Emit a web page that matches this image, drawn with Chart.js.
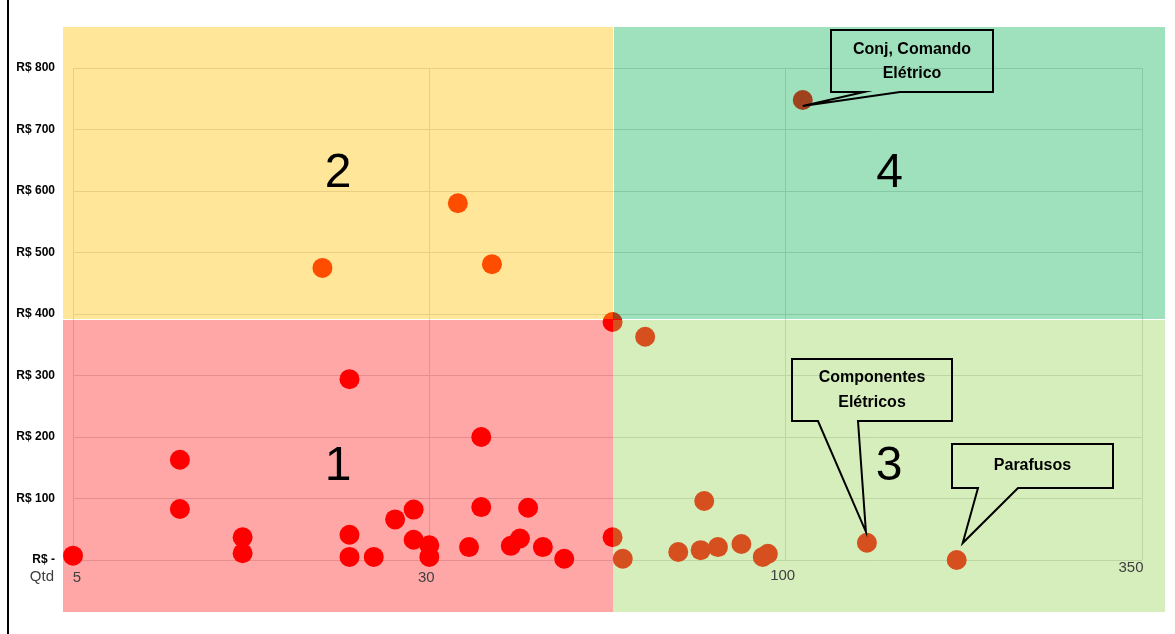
<!DOCTYPE html>
<html>
<head>
<meta charset="utf-8">
<script src="https://cdn.jsdelivr.net/npm/chart.js@4/dist/chart.umd.min.js"></script>
<style>
  body { margin: 0; background: #fff; }
  #wrap { width: 1175px; height: 634px; position: relative; }
</style>
</head>
<body>
<div id="wrap"><canvas id="chart"></canvas></div>
<script>
// x axis is drawn with equally spaced ticks at these quantities
const qtyTicks = [5, 30, 100, 350];
const valueTicks = [0, 100, 200, 300, 400, 500, 600, 700, 800];

// quantity (Qtd) and unit value (R$) of each item
const quantities = [
  5, 12.5, 12.5, 16.9, 16.9, 24.4, 24.4, 24.4, 26.1, 27.6, 28.9, 28.9,
  30, 30, 37.8, 40.2, 40.2, 46, 47.8, 49.4, 52.3, 56.5, 66, 66,
  68, 72.4, 78.9, 83.3, 84, 86.7, 91.3, 95.5, 96.5, 157, 220,
  22.5, 35.6, 42.3,
  112
];
const values = [
  7, 163, 83, 37, 11, 294, 41, 5, 5, 66, 82, 33,
  24, 5, 21, 200, 86, 23, 35, 85, 21, 2, 37, 387,
  2, 363, 13, 16, 96, 21, 26, 5, 10, 28, 0,
  475, 580, 481,
  748
];

// quadrant split
const splitQty = 66;
const splitValue = 392;
const quadrantLabels = ['1', '2', '3', '4'];

const callouts = [
  { index: 38, lines: ['Conj, Comando', 'Elétrico'] },
  { index: 33, lines: ['Componentes', 'Elétricos'] },
  { index: 34, lines: ['Parafusos'] }
];

function qtyToAxis(q) {
  for (let i = 0; i < qtyTicks.length - 1; i++) {
    if (q <= qtyTicks[i + 1] || i === qtyTicks.length - 2) {
      return i + (q - qtyTicks[i]) / (qtyTicks[i + 1] - qtyTicks[i]);
    }
  }
}

const points = quantities.map((q, i) => ({ x: qtyToAxis(q), y: values[i] }));

function drawCallout(ctx, box, base, tip, lines, lineY) {
  ctx.save();
  ctx.strokeStyle = '#000';
  ctx.lineWidth = 2;
  ctx.lineJoin = 'miter';
  ctx.beginPath();
  ctx.moveTo(box.x, box.y);
  ctx.lineTo(box.x + box.w, box.y);
  ctx.lineTo(box.x + box.w, box.y + box.h);
  ctx.lineTo(base[1], box.y + box.h);
  ctx.lineTo(tip.x, tip.y);
  ctx.lineTo(base[0], box.y + box.h);
  ctx.lineTo(box.x, box.y + box.h);
  ctx.closePath();
  ctx.stroke();
  ctx.fillStyle = '#000';
  ctx.font = 'bold 16px "Liberation Sans", Arial, sans-serif';
  ctx.textAlign = 'center';
  ctx.textBaseline = 'middle';
  lines.forEach((t, i) => ctx.fillText(t, box.x + box.w / 2, lineY[i]));
  ctx.restore();
}

const quadrantPlugin = {
  id: 'quadrants',
  beforeDraw(chart) {
    const ctx = chart.ctx;
    ctx.save();
    ctx.fillStyle = '#000';
    ctx.fillRect(7, 0, 2, chart.height);
    ctx.restore();
  },
  afterDatasetsDraw(chart) {
    const ctx = chart.ctx;
    const a = chart.chartArea;
    const xs = chart.scales.x, ys = chart.scales.y;
    const left = a.left - 10, right = a.right + 23, top = a.top - 41, bottom = a.bottom + 52;
    const sx = Math.round(xs.getPixelForValue(qtyToAxis(splitQty)));
    const sy = Math.round(ys.getPixelForValue(splitValue));

    ctx.save();
    // 1: bottom-left, 2: top-left, 3: bottom-right, 4: top-right
    const rects = [
      [left, sy + 1, sx - left, bottom - sy - 1, 'rgba(255,0,0,0.35)'],
      [left, top, sx - left, sy - top, 'rgba(255,192,0,0.4)'],
      [sx, sy + 1, right - sx, bottom - sy - 1, 'rgba(146,208,80,0.38)'],
      [sx + 1, top, right - sx - 1, sy - top, 'rgba(0,176,80,0.375)']
    ];
    rects.forEach(r => { ctx.fillStyle = r[4]; ctx.fillRect(r[0], r[1], r[2], r[3]); });

    ctx.fillStyle = '#000';
    ctx.font = '48px "Liberation Sans", Arial, sans-serif';
    ctx.textAlign = 'center';
    ctx.textBaseline = 'middle';
    rects.forEach((r, i) => ctx.fillText(quadrantLabels[i], r[0] + r[2] / 2, r[1] + r[3] / 2 + 1));

    // x tick labels
    const offs = [[4, 18], [-3, 18], [-3, 16], [-11, 8]];
    ctx.fillStyle = '#404040';
    ctx.font = '15px "Liberation Sans", Arial, sans-serif';
    qtyTicks.forEach((q, i) => {
      ctx.fillText(String(q), xs.getPixelForValue(i) + offs[i][0], a.bottom + offs[i][1]);
    });
    ctx.textAlign = 'right';
    ctx.fillText('Qtd', a.left - 19, a.bottom + 17);
    ctx.restore();

    // callouts anchored to their points
    const meta = chart.getDatasetMeta(0).data;
    const boxes = [
      { box: { x: 831, y: 30, w: 162, h: 62 }, base: [864, 900], dt: [0, 6], lineY: [50, 74] },
      { box: { x: 792, y: 359, w: 160, h: 62 }, base: [818, 858], dt: [-1, -11], lineY: [378, 403] },
      { box: { x: 952, y: 444, w: 161, h: 44 }, base: [978, 1018], dt: [6, -17], lineY: [466] }
    ];
    callouts.forEach((c, i) => {
      const p = meta[c.index];
      const b = boxes[i];
      drawCallout(ctx, b.box, b.base, { x: p.x + b.dt[0], y: p.y + b.dt[1] }, c.lines, b.lineY);
    });
  }
};

new Chart(document.getElementById('chart'), {
  type: 'scatter',
  data: {
    datasets: [{
      data: points,
      backgroundColor: '#FF0000',
      borderWidth: 0,
      pointRadius: 10,
      pointHoverRadius: 10,
      clip: false
    }]
  },
  options: {
    responsive: true,
    maintainAspectRatio: false,
    animation: false,
    layout: { padding: { left: 8, right: 33, top: 68, bottom: 74 } },
    plugins: { legend: { display: false }, tooltip: { enabled: false } },
    scales: {
      x: {
        type: 'linear',
        min: 0,
        max: qtyTicks.length - 1,
        afterBuildTicks: s => { s.ticks = qtyTicks.map((q, i) => ({ value: i })); },
        ticks: { display: false },
        grid: { color: '#D9D9D9', drawTicks: false },
        border: { display: false },
        afterFit: s => { s.height = 0; }
      },
      y: {
        min: 0,
        max: 800,
        afterBuildTicks: s => { s.ticks = valueTicks.map(v => ({ value: v })); },
        ticks: {
          padding: 18,
          color: '#000',
          font: { family: '"Liberation Sans", Arial, sans-serif', size: 12, weight: 'bold' },
          callback: v => v === 0 ? 'R$ -' : 'R$ ' + v
        },
        grid: { color: '#D9D9D9', drawTicks: false },
        border: { display: false },
        afterFit: s => { s.width = 65; }
      }
    }
  },
  plugins: [quadrantPlugin]
});
</script>
</body>
</html>
